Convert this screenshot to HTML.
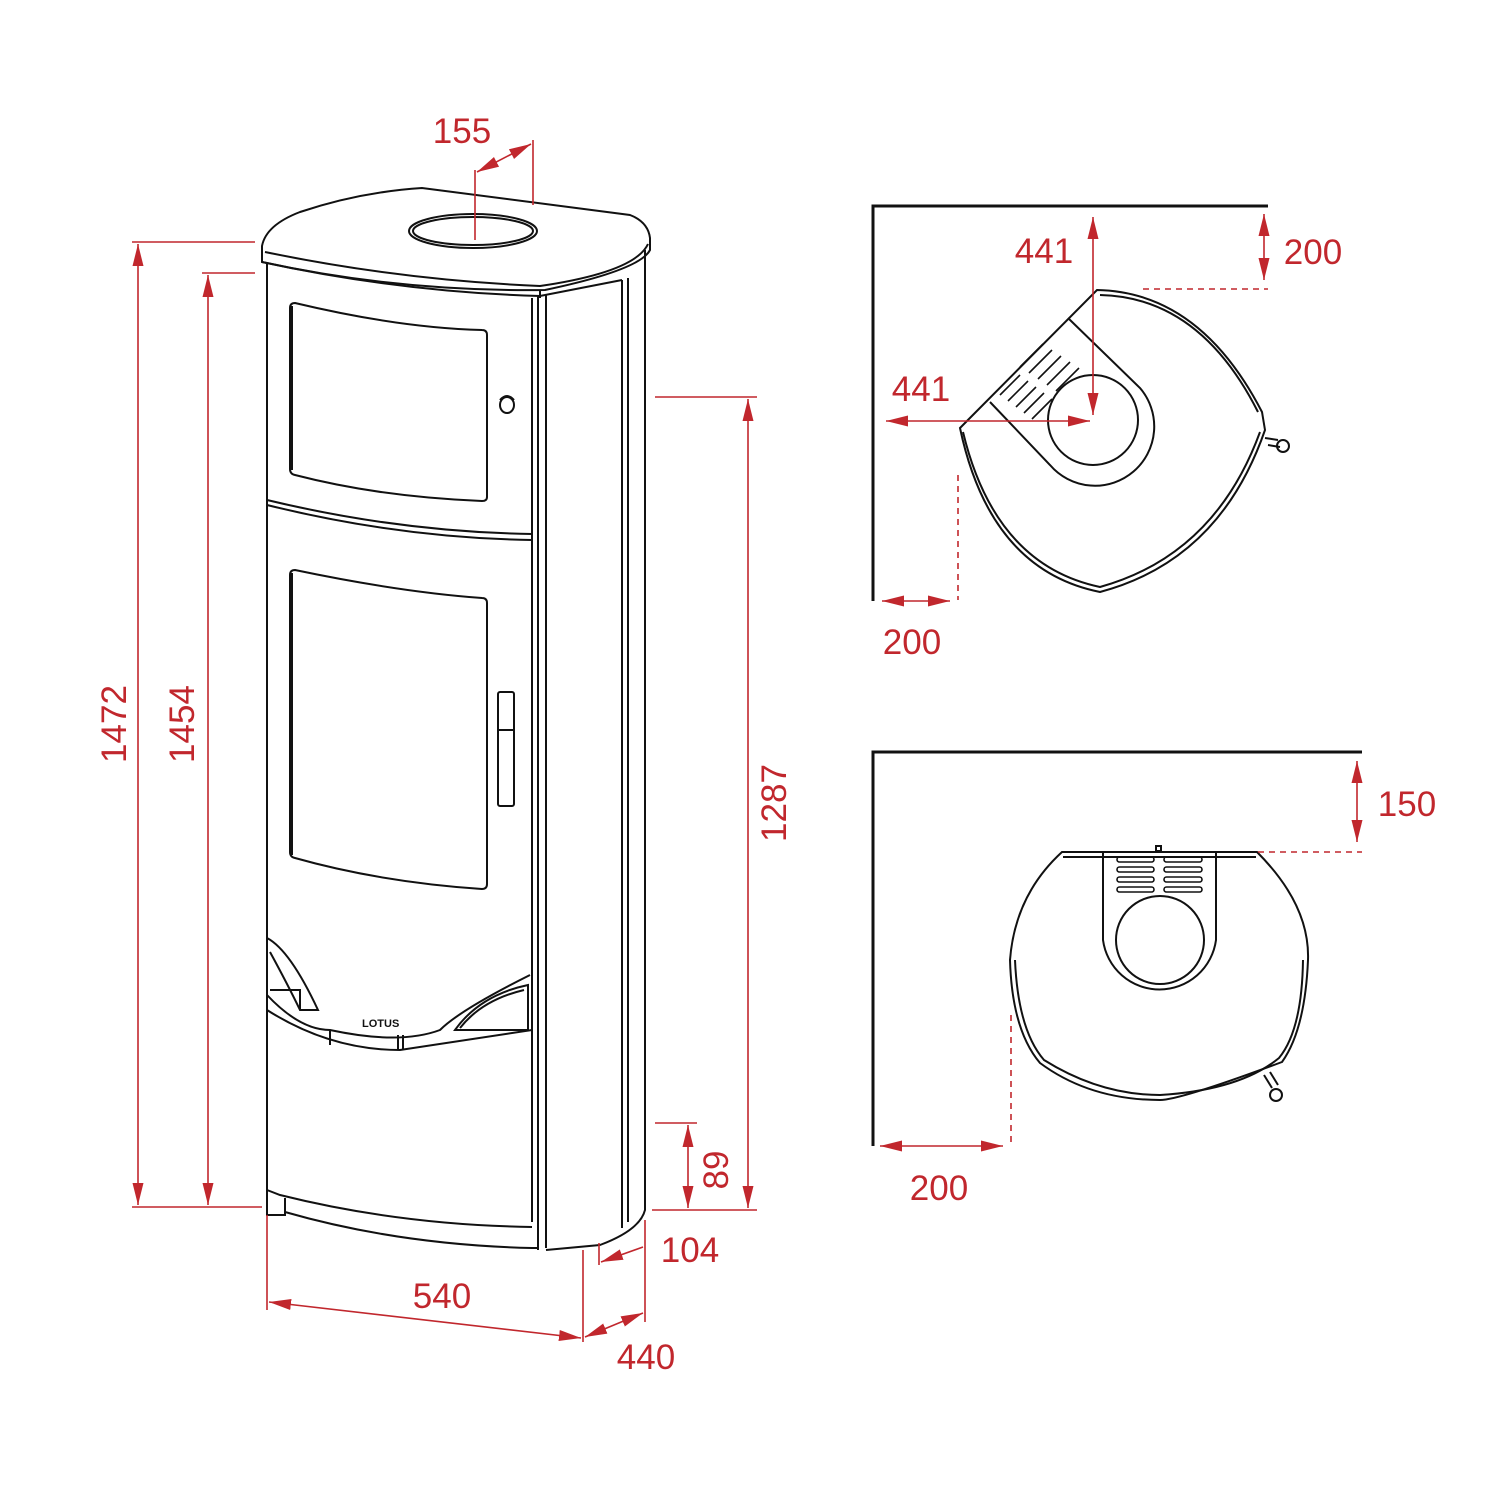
<!DOCTYPE html>
<html><head><meta charset="utf-8"><style>
html,body{margin:0;padding:0;background:#fff;}
svg{display:block;}
text{font-family:"Liberation Sans",sans-serif;font-size:35px;fill:#c1272d;}
</style></head><body>
<svg width="1500" height="1500" viewBox="0 0 1500 1500" xmlns="http://www.w3.org/2000/svg">
<defs>
<marker id="a" viewBox="0 0 20 10" refX="20" refY="5" markerWidth="22" markerHeight="11" markerUnits="userSpaceOnUse" orient="auto-start-reverse">
<path d="M0,0 L20,5 L0,10 z" fill="#c1272d"/></marker>
</defs>
<rect width="1500" height="1500" fill="#fff"/>

<!-- ===== Stove front view ===== -->
<g fill="none" stroke="#111" stroke-width="2">
<path d="M262,246 Q266,225 300,212 Q360,192 422,188 L630,215 Q648,222 650,238 L650,250 Q640,270 545,290 Q400,292 262,262 Z" fill="#fff"/>
<path d="M265,252 Q400,280 540,286 Q635,272 648,244"/>
<path d="M262,262 Q400,292 540,296 L622,280"/>
<path d="M540,290 L540,298"/>
<ellipse cx="473" cy="231" rx="64" ry="17"/>
<ellipse cx="473" cy="231" rx="60" ry="14"/>
<path d="M267,262 L267,1215"/>
<path d="M532,298 L532,1222"/>
<path d="M538,296 L538,1250"/>
<path d="M546,294 L546,1248"/>
<path d="M622,280 L622,1228"/>
<path d="M628,278 L628,1222"/>
<path d="M645,250 L645,1210 Q640,1230 600,1245 L546,1250"/>
<path d="M295,303 Q400,328 482,330 Q487,330 487,335 L487,497 Q487,501 482,501 Q380,497 295,475 Q290,474 290,469 L290,308 Q290,303 295,303 Z"/>
<path d="M292,306 L292,470"/>
<ellipse cx="507" cy="405" rx="7" ry="8"/>
<path d="M500,400 Q507,392 514,400"/>
<path d="M267,500 Q400,532 532,534"/>
<path d="M267,505 Q400,538 532,540"/>
<path d="M295,570 Q400,592 482,598 Q487,598 487,603 L487,884 Q487,889 482,889 Q380,882 295,858 Q290,857 290,852 L290,575 Q290,570 295,570 Z"/>
<path d="M292,573 L292,855"/>
<rect x="498" y="692" width="16" height="114" rx="2"/>
<path d="M498,730 L514,730"/>
<path d="M267,938 Q290,950 318,1010 L300,1010 Q288,985 270,952"/>
<path d="M270,990 L300,990 L300,1010"/>
<path d="M267,995 Q300,1030 330,1030 Q400,1045 440,1030 Q460,1010 530,975"/>
<path d="M455,1030 Q480,995 528,985 L528,1030 Z"/>
<path d="M460,1028 Q482,1000 524,990"/>
<path d="M267,1010 Q330,1050 400,1050 L532,1030"/>
<path d="M330,1030 L330,1045"/>
<path d="M398,1035 L398,1050 M403,1035 L403,1050"/>
<path d="M267,1190 L280,1195 Q400,1225 532,1227"/>
<path d="M267,1195 L267,1215 L285,1215 L285,1198"/>
<path d="M285,1212 Q400,1245 532,1248 L538,1248"/>
</g>
<text x="362" y="1027" style="font-size:11px;fill:#111;font-weight:bold">LOTUS</text>

<!-- ===== Front view dimensions ===== -->
<g stroke="#c1272d" stroke-width="1.6" fill="none">
<path d="M132,242 L255,242 M132,1207 L262,1207 M202,273 L255,273"/>
<path d="M138,244 L138,1205" marker-start="url(#a)" marker-end="url(#a)"/>
<path d="M208,275 L208,1205" marker-start="url(#a)" marker-end="url(#a)"/>
<path d="M655,397 L757,397 M652,1210 L757,1210 M655,1123 L697,1123"/>
<path d="M748,399 L748,1208" marker-start="url(#a)" marker-end="url(#a)"/>
<path d="M688,1125 L688,1208" marker-start="url(#a)" marker-end="url(#a)"/>
<path d="M599,1243 L599,1265 M645,1220 L645,1322"/>
<path d="M643,1247 L601,1262" marker-end="url(#a)"/>
<path d="M267,1215 L267,1310 M583,1250 L583,1342"/>
<path d="M269,1302 L581,1338" marker-start="url(#a)" marker-end="url(#a)"/>
<path d="M585,1337 L643,1313" marker-start="url(#a)" marker-end="url(#a)"/>
<path d="M475,170 L475,240 M533,140 L533,205"/>
<path d="M477,172 L531,144" marker-start="url(#a)" marker-end="url(#a)"/>
</g>
<text x="462" y="143" text-anchor="middle">155</text>
<text transform="translate(126,724) rotate(-90)" text-anchor="middle">1472</text>
<text transform="translate(194,724) rotate(-90)" text-anchor="middle">1454</text>
<text transform="translate(786,803) rotate(-90)" text-anchor="middle">1287</text>
<text transform="translate(728,1170) rotate(-90)" text-anchor="middle">89</text>
<text x="690" y="1262" text-anchor="middle">104</text>
<text x="442" y="1308" text-anchor="middle">540</text>
<text x="646" y="1369" text-anchor="middle">440</text>

<!-- ===== Top plan (corner) ===== -->
<g fill="none" stroke="#111">
<path d="M873,601 L873,206 L1268,206" stroke-width="3"/>
<g stroke-width="2">
<path d="M1097,290 Q1200,292 1262,412 L1265,430 Q1220,560 1100,592 Q990,570 960,428 L1097,290 Z"/>
<path d="M1100,295 Q1200,297 1258,412 M963,432 Q995,565 1100,587 Q1215,555 1260,432"/>
<path d="M1068,318 L1140,388 A57,57 0 0 1 1050,465 L990,402"/>
<circle cx="1093" cy="420" r="45"/>
<g stroke-width="1.6">
<path d="M1043,344 L1020,367 M1052,350 L1029,373 M1061,356 L1038,379 M1070,362 L1047,385 M1079,368 L1056,391"/>
<path d="M1020,375 L1000,395 M1028,381 L1008,401 M1036,387 L1016,407 M1044,393 L1024,413 M1052,399 L1032,419"/>
</g>
<path d="M1265,438 L1278,440 M1268,445 L1280,447"/>
<circle cx="1283" cy="446" r="6"/>
</g>
</g>
<g stroke="#c1272d" stroke-width="1.6" fill="none">
<path d="M1093,217 L1093,415" marker-start="url(#a)" marker-end="url(#a)"/>
<path d="M886,421 L1090,421" marker-start="url(#a)" marker-end="url(#a)"/>
<path d="M1264,214 L1264,280" marker-start="url(#a)" marker-end="url(#a)"/>
<path d="M1143,289 L1268,289 M958,475 L958,600" stroke-dasharray="6,5"/>
<path d="M882,601 L950,601" marker-start="url(#a)" marker-end="url(#a)"/>
</g>
<text x="1044" y="263" text-anchor="middle">441</text>
<text x="921" y="401" text-anchor="middle">441</text>
<text x="1313" y="264" text-anchor="middle">200</text>
<text x="912" y="654" text-anchor="middle">200</text>

<!-- ===== Bottom plan (wall) ===== -->
<g fill="none" stroke="#111">
<path d="M873,1146 L873,752 L1362,752" stroke-width="3"/>
<g stroke-width="2">
<path d="M1062,852 L1257,852 Q1310,905 1308,960 Q1305,1030 1282,1062 Q1180,1100 1160,1100 Q1090,1100 1040,1063 Q1012,1030 1010,960 Q1015,895 1062,852 Z"/>
<path d="M1063,857 L1256,857 M1015,960 Q1018,1030 1044,1060 Q1100,1095 1160,1095 Q1240,1090 1279,1058 Q1302,1030 1303,960"/>
<path d="M1103,852 L1103,940 A57,57 0 0 0 1216,940 L1216,852"/>
<circle cx="1160" cy="940" r="44"/>
<g stroke-width="1.6">
<rect x="1117" y="857" width="37" height="5" rx="2.5"/><rect x="1164" y="857" width="38" height="5" rx="2.5"/>
<rect x="1117" y="867" width="37" height="5" rx="2.5"/><rect x="1164" y="867" width="38" height="5" rx="2.5"/>
<rect x="1117" y="877" width="37" height="5" rx="2.5"/><rect x="1164" y="877" width="38" height="5" rx="2.5"/>
<rect x="1117" y="887" width="37" height="5" rx="2.5"/><rect x="1164" y="887" width="38" height="5" rx="2.5"/>
</g>
<rect x="1156" y="846" width="5" height="5"/>
<path d="M1264,1075 L1272,1088 M1270,1072 L1278,1085"/>
<circle cx="1276" cy="1095" r="6"/>
</g>
</g>
<g stroke="#c1272d" stroke-width="1.6" fill="none">
<path d="M1357,761 L1357,842" marker-start="url(#a)" marker-end="url(#a)"/>
<path d="M1258,852 L1362,852 M1011,1015 L1011,1145" stroke-dasharray="6,5"/>
<path d="M880,1146 L1003,1146" marker-start="url(#a)" marker-end="url(#a)"/>
</g>
<text x="1407" y="816" text-anchor="middle">150</text>
<text x="939" y="1200" text-anchor="middle">200</text>
</svg>
</body></html>
